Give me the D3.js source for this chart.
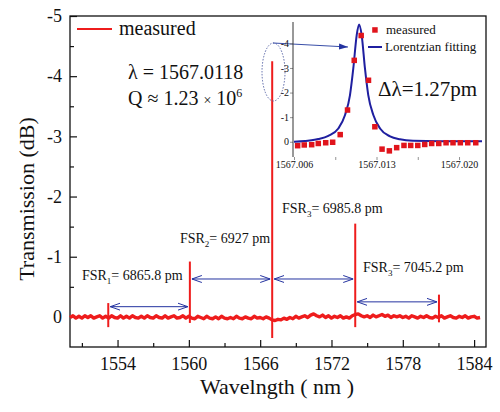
<!DOCTYPE html>
<meta charset="utf-8">
<head>
<script src="https://d3js.org/d3.v7.min.js"></script>
<style>
  body { margin: 0; background: #fff; }
  text { font-family: "Liberation Serif", "Times New Roman", serif; fill: #111; }
</style>
</head>
<body>
<div id="chart"></div>
<script>

// ---- main spectrum data ----
var xTicks = [1554, 1560, 1566, 1572, 1578, 1584];
var xMinor = [1551, 1557, 1563, 1569, 1575, 1581];
var yTicks = [-5, -4, -3, -2, -1, 0];
var yMinor = [-4.5, -3.5, -2.5, -1.5, -0.5];

// baseline of the trace, one value every 0.25 nm from 1550 nm
var baseStart = 1550.0, baseStep = 0.25;
var baseline = [
  0.01,-0.02,0.02,-0.01,0.02,-0.02,0.01,-0.02,0.02,0.00,
  -0.02,0.02,-0.01,0.02,-0.02,0.01,0.02,-0.02,0.02,-0.01,
  0.02,-0.02,0.01,0.02,-0.01,0.02,-0.02,0.01,0.02,-0.02,
  0.01,0.02,-0.02,0.02,0.00,-0.02,0.02,0.01,-0.02,0.02,
  -0.01,0.02,0.03,-0.01,0.01,0.03,-0.01,0.02,0.03,0.00,
  0.03,-0.01,0.02,0.03,0.01,0.03,-0.01,0.02,0.03,0.00,
  0.02,0.03,-0.01,0.02,0.01,0.03,0.00,0.02,0.05,0.06,
  0.04,0.05,0.02,0.04,0.01,0.03,-0.01,0.02,0.00,-0.02,
  0.01,-0.03,-0.05,-0.02,0.00,-0.03,0.01,-0.02,0.02,-0.01,
  0.01,-0.02,0.02,0.00,0.02,-0.02,-0.04,-0.05,-0.02,0.00,
  -0.02,0.01,-0.03,0.00,-0.02,-0.04,-0.01,-0.03,0.01,-0.02,
  0.00,-0.02,0.01,-0.01,0.02,-0.02,0.00,0.02,-0.01,0.01,
  -0.02,0.01,0.02,-0.01,0.01,-0.02,0.02,0.00,-0.02,0.01,
  0.02,-0.01,0.01,-0.02,0.02,0.00,-0.01,0.02,0.01
];

// resonance dips
var peakWl     = [1553.219, 1560.085, 1567.0118, 1573.998, 1581.043];
var peakTop    = [-0.23, -0.92, -4.25, -1.55, -0.37];
var peakBottom = [0.17, 0.10, 0.35, 0.17, 0.09];

// FSR annotations
var fsrSub   = ["1", "2", "3", "3"];
var fsrValue = ["6865.8", "6927", "6985.8", "7045.2"];
var fsrArrowY = [-0.17, -0.63, -0.63, -0.25];
var fsrTextWl = [1551.0, 1559.25, 1567.84, 1574.65];
var fsrTextDb = [-0.62, -1.23, -1.73, -0.75];

// ---- inset data ----
var insetXTicks = [1567.006, 1567.013, 1567.020];
var insetXMinor = [1567.0095, 1567.0165];
var insetYTicks = [-4, -3, -2, -1, 0];

var measWl = [1567.00631,1567.00687,1567.00750,1567.00806,1567.00869,1567.00928,1567.00992,
  1567.01054,1567.01111,1567.01170,1567.01232,1567.01286,1567.01347,1567.01409,1567.01471,
  1567.01533,1567.01590,1567.01650,1567.01709,1567.01768,1567.01828,1567.01890,1567.01949,
  1567.02011,1567.02074,1567.02142];
var measDb = [0.16,0.13,0.12,0.07,0.04,0.02,-0.29,
  -1.29,-3.31,-4.32,-2.50,-0.61,0.30,0.37,0.24,
  0.15,0.15,0.15,0.11,0.07,0.07,0.04,0.04,
  0.04,0.04,0.04];

var fitWl = [1567.0060,1567.00693,1567.00806,1567.00891,1567.00976,1567.01033,1567.01075,
  1567.01103,1567.01132,1567.01152,1567.01174,1567.01202,1567.01230,1567.01273,1567.01330,
  1567.01415,1567.01499,1567.01610,1567.01839,1567.02195];
var fitDb = [0.00,-0.03,-0.11,-0.24,-0.54,-1.09,-1.90,
  -2.98,-4.34,-4.77,-4.34,-2.98,-1.90,-1.09,-0.54,
  -0.22,-0.10,-0.04,-0.02,-0.02];

var red = "#ee1c1c", blue = "#2433a0";

var svg = d3.select("#chart").append("svg")
  .attr("width", 500).attr("height", 412);

var defs = svg.append("defs");
defs.append("marker")
  .attr("id", "open").attr("viewBox", "0 -5 10 10")
  .attr("refX", 10).attr("refY", 0)
  .attr("markerUnits", "userSpaceOnUse")
  .attr("markerWidth", 10).attr("markerHeight", 10)
  .attr("orient", "auto-start-reverse")
  .append("path").attr("d", "M0,-3.5L10,0L0,3.5")
  .attr("fill", "none").attr("stroke", blue).attr("stroke-width", 1);
defs.append("marker")
  .attr("id", "solid").attr("viewBox", "0 -5 10 10")
  .attr("refX", 10).attr("refY", 0)
  .attr("markerUnits", "userSpaceOnUse")
  .attr("markerWidth", 9).attr("markerHeight", 9)
  .attr("orient", "auto")
  .append("path").attr("d", "M0,-3.5L10,0L0,3.5Z")
  .attr("fill", blue);

// scales
var x = d3.scaleLinear().domain([1550, 1585]).range([70, 486]);
var y = d3.scaleLinear().domain([-5, 0.5]).range([16, 347]);

// axes (ticks pointing inward)
svg.append("g").attr("transform", "translate(0,347)")
  .call(d3.axisBottom(x).tickValues(xTicks).tickSize(-7).tickPadding(10).tickFormat(d3.format("d")));
svg.append("g").attr("transform", "translate(0,347)")
  .call(d3.axisBottom(x).tickValues(xMinor).tickSize(-4).tickFormat(""));
svg.append("g").attr("transform", "translate(70,0)")
  .call(d3.axisLeft(y).tickValues(yTicks).tickSize(-7).tickPadding(8).tickFormat(function(d){ return d.toString(); }));
svg.append("g").attr("transform", "translate(70,0)")
  .call(d3.axisLeft(y).tickValues(yMinor).tickSize(-4).tickFormat(""));
svg.selectAll(".domain").remove();
svg.selectAll(".tick line").attr("stroke", "#111").attr("stroke-width", 1.2);
svg.selectAll(".tick text").style("font-size", "18px")
  .style("font-family", "Liberation Serif, serif").attr("fill", "#111");

// frame
svg.append("rect").attr("x", 70).attr("y", 16).attr("width", 416).attr("height", 331)
  .attr("fill", "none").attr("stroke", "#111").attr("stroke-width", 1.3);

// axis titles
svg.append("text").attr("x", 277).attr("y", 394).attr("text-anchor", "middle")
  .style("font-size", "22px").text("Wavelngth ( nm )");
svg.append("text").attr("transform", "translate(34,199) rotate(-90)")
  .attr("text-anchor", "middle").style("font-size", "22px").text("Transmission (dB)");

// trace: noisy baseline plus the resonance spikes
var trace = baseline.map(function(v, i) { return {w: baseStart + i * baseStep, v: v}; });

svg.append("path").datum(trace)
  .attr("fill", "none").attr("stroke", red).attr("stroke-width", 3.4)
  .attr("stroke-linejoin", "round")
  .attr("d", d3.line().x(function(d){ return x(d.w); }).y(function(d){ return y(d.v); }));

svg.selectAll("line.spike").data(d3.range(peakWl.length)).enter().append("line")
  .attr("class", "spike")
  .attr("x1", function(i){ return x(peakWl[i]); })
  .attr("x2", function(i){ return x(peakWl[i]); })
  .attr("y1", function(i){ return y(peakTop[i]); })
  .attr("y2", function(i){ return y(peakBottom[i]); })
  .attr("stroke", red).attr("stroke-width", 2);

// FSR arrows and labels
for (var i = 0; i < 4; i++) {
  svg.append("line")
    .attr("x1", x(peakWl[i]) + 2).attr("x2", x(peakWl[i + 1]) - 2)
    .attr("y1", y(fsrArrowY[i])).attr("y2", y(fsrArrowY[i]))
    .attr("stroke", blue).attr("stroke-width", 1)
    .attr("marker-start", "url(#open)").attr("marker-end", "url(#open)");
  var t = svg.append("text").attr("x", x(fsrTextWl[i])).attr("y", y(fsrTextDb[i]))
    .style("font-size", "14px");
  t.append("tspan").text("FSR");
  t.append("tspan").attr("dy", 4).style("font-size", "9px").text(fsrSub[i]);
  t.append("tspan").attr("dy", -4).text("= " + fsrValue[i] + " pm");
}

// legend
svg.append("line").attr("x1", 77).attr("x2", 112).attr("y1", 29).attr("y2", 29)
  .attr("stroke", red).attr("stroke-width", 2);
svg.append("text").attr("x", 119).attr("y", 35).style("font-size", "20px").text("measured");

// resonance info
svg.append("text").attr("x", 128).attr("y", 79).style("font-size", "20px").text("λ = 1567.0118");
var q = svg.append("text").attr("x", 128).attr("y", 105).style("font-size", "20px");
q.append("tspan").text("Q ≈ 1.23 ");
q.append("tspan").style("font-size", "14px").text("×");
q.append("tspan").text(" 10");
q.append("tspan").attr("dy", -8).style("font-size", "12px").text("6");

// ellipse and pointer to inset
svg.append("ellipse").attr("cx", 273.5).attr("cy", 72).attr("rx", 11.5).attr("ry", 29)
  .attr("fill", "none").attr("stroke", "#5a67a8").attr("stroke-width", 1)
  .attr("stroke-dasharray", "1.5,1.5");
svg.append("line").attr("x1", 273).attr("y1", 43).attr("x2", 348).attr("y2", 47)
  .attr("stroke", "#3a4fa8").attr("stroke-width", 1.2).attr("marker-end", "url(#solid)");

// ---- inset ----
var xi = d3.scaleLinear().domain([1567.006, 1567.022]).range([294, 482.6]);
var yi = d3.scaleLinear().domain([-4.87, 0.62]).range([22, 157]);

var inset = svg.append("g");
inset.append("g").attr("transform", "translate(293,0)")
  .call(d3.axisLeft(yi).tickValues(insetYTicks).tickSize(3).tickSizeOuter(0).tickPadding(1)
    .tickFormat(function(d){ return d.toString(); }));
inset.append("g").attr("transform", "translate(0,157)")
  .call(d3.axisBottom(xi).tickValues(insetXTicks).tickSize(3).tickPadding(1)
    .tickFormat(d3.format(".3f")));
inset.append("g").attr("transform", "translate(0,157)")
  .call(d3.axisBottom(xi).tickValues(insetXMinor).tickSize(3).tickFormat(""));
inset.selectAll(".domain").remove();
inset.append("line").attr("x1", 293).attr("x2", 293).attr("y1", 22).attr("y2", 157)
  .attr("stroke", "#333").attr("stroke-width", 1);
inset.selectAll(".tick line").attr("stroke", "#777").attr("stroke-width", 0.8);
inset.selectAll(".tick text").style("font-size", "10px").attr("fill", "#444");

inset.append("path").datum(d3.range(fitWl.length))
  .attr("fill", "none").attr("stroke", "#1f1fa0").attr("stroke-width", 2)
  .attr("d", d3.line().curve(d3.curveMonotoneX)
    .x(function(i){ return xi(fitWl[i]); }).y(function(i){ return yi(fitDb[i]); }));

inset.selectAll("rect.m").data(d3.range(measWl.length)).enter().append("rect")
  .attr("class", "m")
  .attr("x", function(i){ return xi(measWl[i]) - 2.75; })
  .attr("y", function(i){ return yi(measDb[i]) - 2.75; })
  .attr("width", 5.5).attr("height", 5.5).attr("fill", "#e0141c");

// inset legend
inset.append("rect").attr("x", 372.2).attr("y", 27.2).attr("width", 5.5).attr("height", 5.5)
  .attr("fill", "#e0141c");
inset.append("text").attr("x", 386).attr("y", 34).style("font-size", "13px").text("measured");
inset.append("line").attr("x1", 368).attr("x2", 382).attr("y1", 47).attr("y2", 47)
  .attr("stroke", "#1f1fa0").attr("stroke-width", 2);
inset.append("text").attr("x", 385).attr("y", 51).style("font-size", "13px").text("Lorentzian fitting");
inset.append("text").attr("x", 378).attr("y", 96).style("font-size", "21px").text("Δλ=1.27pm");

</script>
</body>
